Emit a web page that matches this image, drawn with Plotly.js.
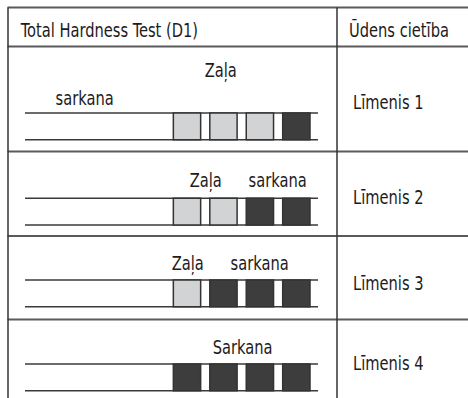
<!DOCTYPE html>
<html>
<head>
<meta charset="utf-8">
<script src="https://cdn.plot.ly/plotly-3.0.1.min.js"></script>
<style>html,body{margin:0;padding:0;background:#fff;}#chart{width:468px;height:398px;}</style>
</head>
<body>
<div id="chart"></div>
<script>
// ---- data ----
const headers = ["Total Hardness Test (D1)", "Ūdens cietība"];
const levels = ["Līmenis 1", "Līmenis 2", "Līmenis 3", "Līmenis 4"];
const padColours = [
  ["Zaļa", "Zaļa", "Zaļa", "sarkana"],
  ["Zaļa", "Zaļa", "sarkana", "sarkana"],
  ["Zaļa", "sarkana", "sarkana", "sarkana"],
  ["sarkana", "sarkana", "sarkana", "sarkana"]
];
const colourLabels = [
  ["sarkana", "Zaļa"],
  ["Zaļa", "sarkana"],
  ["Zaļa", "sarkana"],
  ["Sarkana"]
];

// ---- layout / style (pixel coordinate frame) ----
const W = 468, H = 398;
const FONT = "Liberation Sans Narrow, Arial Narrow, DejaVu Sans Condensed, Liberation Sans, sans-serif";
const TXT = "#1e1b1c";
const FS = 20;
const SQUEEZE = 0.815;
const fillFor = {"Zaļa": "#d1d3d4", "sarkana": "#3d3d3d"};
const rowLines = [7.5, 46.5, 151.5, 236, 319.5];
const stripTop = [113, 198.3, 280, 364];
const stripH = 26.8;
const stripX = [25, 318];
const padX0 = 187, padPitch = 36.45, padW = 27.3;
const labelPos = [
  [{x: 84, b: 105}, {x: 220.5, b: 76.7}],
  [{x: 205, b: 186.7}, {x: 277.5, b: 186.7}],
  [{x: 187, b: 270}, {x: 259, b: 270}],
  [{x: 242.5, b: 354}]
];
const levelBase = [109.3, 204, 290, 370];

const xs = [], bases = [], hs = [], cols = [];
padColours.forEach((row, r) => {
  row.forEach((c, i) => {
    xs.push(padX0 + padPitch * i);
    bases.push(stripTop[r]);
    hs.push(stripH);
    cols.push(fillFor[c]);
  });
});

const trace = {
  type: "bar",
  x: xs, y: hs, base: bases,
  width: padW,
  marker: {color: cols, line: {color: "#333333", width: 1.5}},
  hoverinfo: "skip"
};

const shapes = [];
rowLines.forEach(y => shapes.push({type: "line", x0: 7.5, x1: W, y0: y, y1: y, line: {color: "#5a5a5a", width: 2}}));
shapes.push({type: "line", x0: 8, x1: 8, y0: 7.5, y1: H, line: {color: "#333", width: 1.5}});
shapes.push({type: "line", x0: 337, x1: 337, y0: 7.5, y1: H, line: {color: "#333", width: 1.5}});
stripTop.forEach(t => {
  shapes.push({type: "line", x0: stripX[0], x1: stripX[1], y0: t, y1: t, layer: "below", line: {color: "#3a3a3a", width: 1.5}});
  shapes.push({type: "line", x0: stripX[0], x1: stripX[1], y0: t + stripH, y1: t + stripH, layer: "below", line: {color: "#3a3a3a", width: 1.5}});
});

const ann = [];
const mk = (text, x, base, xanchor) => ({
  text, x, y: base - 0.35 * FS, xref: "x", yref: "y", showarrow: false,
  xanchor, yanchor: "middle", font: {family: FONT, size: FS, color: TXT}
});
ann.push(mk(headers[0], 18, 36.5, "left"));
ann.push(mk(headers[1], 347, 36.5, "left"));
colourLabels.forEach((row, r) => row.forEach((t, i) => ann.push(mk(t, labelPos[r][i].x, labelPos[r][i].b, "center"))));
levels.forEach((t, r) => ann.push(mk(t, 350.5, levelBase[r], "left")));

const layout = {
  width: W, height: H,
  margin: {l: 0, r: 0, t: 0, b: 0, pad: 0},
  paper_bgcolor: "#fff", plot_bgcolor: "#fff",
  showlegend: false,
  bargap: 0,
  xaxis: {range: [0, W], visible: false, fixedrange: true},
  yaxis: {range: [H, 0], visible: false, fixedrange: true},
  shapes, annotations: ann
};
Plotly.newPlot("chart", [trace], layout, {staticPlot: true, displayModeBar: false}).then(() => {
  // condense the lettering horizontally to match the narrow typeface of the original
  document.querySelectorAll("g.annotation").forEach(g => {
    const i = +g.getAttribute("data-index");
    const a = ann[i];
    const t = g.querySelector("text.annotation-text");
    if (!a || !t) return;
    const bb = t.getBBox();
    const cx = a.xanchor === "left" ? bb.x : bb.x + bb.width / 2;
    t.setAttribute("transform", `translate(${cx},0) scale(${SQUEEZE},1) translate(${-cx},0)`);
  });
});
</script>
</body>
</html>
